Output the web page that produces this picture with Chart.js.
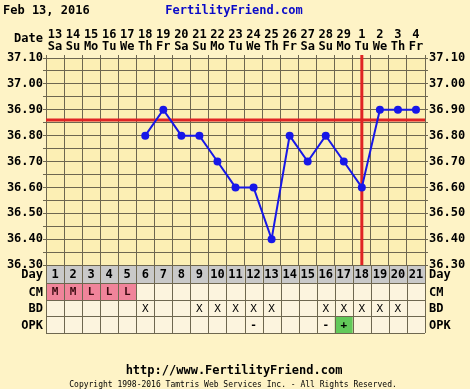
<!DOCTYPE html>
<html>
<head>
<meta charset="utf-8">
<script src="https://cdn.jsdelivr.net/npm/chart.js@4/dist/chart.umd.min.js"></script>
<style>
  html, body { margin: 0; padding: 0; background: #fef3c6; }
  canvas { display: block; }
</style>
</head>
<body>
<canvas id="c" width="470" height="389"></canvas>
<script>
// ---- data ----
const dates    = ['13','14','15','16','17','18','19','20','21','22','23','24','25','26','27','28','29','1','2','3','4'];
const weekdays = ['Sa','Su','Mo','Tu','We','Th','Fr','Sa','Su','Mo','Tu','We','Th','Fr','Sa','Su','Mo','Tu','We','Th','Fr'];
const cycleDays = ['1','2','3','4','5','6','7','8','9','10','11','12','13','14','15','16','17','18','19','20','21'];
const temps = [null,null,null,null,null,36.80,36.90,36.80,36.80,36.70,36.60,36.60,36.40,36.80,36.70,36.80,36.70,36.60,36.90,36.90,36.90];
const cm  = ['M','M','L','L','L','','','','','','','','','','','','','','','',''];
const bd  = ['','','','','','X','','','X','X','X','X','X','','','X','X','X','X','X',''];
const opk = ['','','','','','','','','','','','-','','','','-','+','','','',''];
const yTickValues = [36.30,36.35,36.40,36.45,36.50,36.55,36.60,36.65,36.70,36.75,36.80,36.85,36.90,36.95,37.00,37.05,37.10];
const coverline = 36.86;
const ovulationDay = 18;
const titleText = 'Feb 13, 2016';
const siteText = 'FertilityFriend.com';
const footerUrl = 'http://www.FertilityFriend.com';
const footerCopy = 'Copyright 1998-2016 Tamtris Web Services Inc. - All Rights Reserved.';
const rowNames = ['Day','CM','BD','OPK'];

// ---- styles ----
const MONO = '"DejaVu Sans Mono", "Liberation Mono", monospace';
const OUTER_BG = '#fef3c6';
const PLOT_BG = '#fcefb4';
const CELL_BG = '#fcf4de';
const GRID = '#6e6750';
const RED = '#e02424';
const BLUE = '#1717e8';

function yTickCb(v) {
  const r = Math.round(v * 100);
  return r % 10 === 0 ? (r / 100).toFixed(2) : '';
}

const decorPlugin = {
  id: 'decor',
  beforeDraw(chart) {
    const ctx = chart.ctx, a = chart.chartArea;
    ctx.save();
    ctx.fillStyle = OUTER_BG;
    ctx.fillRect(0, 0, chart.width, chart.height);
    ctx.fillStyle = PLOT_BG;
    ctx.fillRect(a.left, a.top, a.right - a.left, a.bottom - a.top);
    ctx.restore();
  },
  beforeDatasetsDraw(chart) {
    const ctx = chart.ctx, a = chart.chartArea;
    const xs = chart.scales.x, ys = chart.scales.y;
    ctx.save();
    ctx.strokeStyle = RED;
    ctx.lineWidth = 3;
    const cy = ys.getPixelForValue(coverline);
    ctx.beginPath(); ctx.moveTo(a.left, cy); ctx.lineTo(a.right, cy); ctx.stroke();
    const ox = xs.getPixelForValue(ovulationDay - 1);
    ctx.beginPath(); ctx.moveTo(ox, a.top - 3); ctx.lineTo(ox, a.bottom); ctx.stroke();
    ctx.restore();
  },
  afterDraw(chart) {
    const ctx = chart.ctx, a = chart.chartArea;
    const xs = chart.scales.x;
    const n = cycleDays.length;
    const colW = (a.right - a.left) / n;
    const rowTops = [a.bottom, a.bottom + 18, a.bottom + 35, a.bottom + 51, a.bottom + 68];
    ctx.save();
    // cell backgrounds
    for (let i = 0; i < n; i++) {
      const cx = xs.getPixelForValue(i);
      const l = cx - colW / 2;
      // day row
      ctx.fillStyle = '#c9c9c9';
      ctx.fillRect(l, rowTops[0], colW, rowTops[1] - rowTops[0]);
      ctx.fillStyle = cm[i] ? '#f0849a' : CELL_BG;
      ctx.fillRect(l, rowTops[1], colW, rowTops[2] - rowTops[1]);
      ctx.fillStyle = CELL_BG;
      ctx.fillRect(l, rowTops[2], colW, rowTops[3] - rowTops[2]);
      ctx.fillStyle = opk[i] === '+' ? '#62c95a' : CELL_BG;
      ctx.fillRect(l, rowTops[3], colW, rowTops[4] - rowTops[3]);
    }
    // grid
    ctx.strokeStyle = GRID;
    ctx.lineWidth = 1;
    ctx.beginPath();
    for (let r = 0; r < rowTops.length; r++) {
      const y = Math.round(rowTops[r]) + 0.5;
      ctx.moveTo(a.left, y); ctx.lineTo(a.right, y);
    }
    for (let i = 0; i <= n; i++) {
      const x = Math.round(a.left + i * colW) + 0.5;
      ctx.moveTo(x, rowTops[0]); ctx.lineTo(x, rowTops[4]);
    }
    ctx.stroke();
    // texts
    ctx.textBaseline = 'middle';
    ctx.textAlign = 'center';
    ctx.font = 'bold 12px ' + MONO;
    const rows = [cycleDays, cm, bd, opk];
    for (let r = 0; r < 4; r++) {
      const ym = (rowTops[r] + rowTops[r + 1]) / 2 + 1;
      for (let i = 0; i < n; i++) {
        const t = rows[r][i];
        if (!t) continue;
        ctx.fillStyle = r === 1 ? '#3a0a10' : '#000';
        ctx.font = (r === 2 ? '' : 'bold ') + (r === 0 ? '12px ' : '11px ') + MONO;
        ctx.fillText(t, xs.getPixelForValue(i), ym);
      }
      ctx.font = 'bold 12px ' + MONO;
      ctx.fillStyle = '#000';
      ctx.textAlign = 'right';
      ctx.fillText(rowNames[r], a.left - 3, ym);
      ctx.textAlign = 'left';
      ctx.fillText(rowNames[r], a.right + 4, ym);
      ctx.textAlign = 'center';
    }
    // header texts
    ctx.font = 'bold 12px ' + MONO;
    ctx.textAlign = 'left';
    ctx.fillStyle = '#000';
    ctx.fillText(titleText, 3, 11);
    ctx.fillStyle = '#0a0ac8';
    ctx.textAlign = 'center';
    ctx.fillText(siteText, 234, 11);
    ctx.fillStyle = '#000';
    ctx.textAlign = 'right';
    ctx.fillText('Date', a.left - 3, 39);
    // footer
    ctx.textAlign = 'center';
    ctx.font = 'bold 12px ' + MONO;
    ctx.fillText(footerUrl, 234, 371);
    ctx.font = '8px ' + MONO;
    ctx.fillText(footerCopy, 233, 385);
    ctx.restore();
  }
};

const fontTick = { family: MONO, size: 12, weight: 'bold', lineHeight: 1.0 };

new Chart(document.getElementById('c'), {
  type: 'line',
  data: {
    labels: dates,
    datasets: [{
      data: temps,
      borderColor: BLUE,
      backgroundColor: BLUE,
      borderWidth: 2,
      pointRadius: 4,
      pointBorderWidth: 0,
      pointBackgroundColor: BLUE,
      tension: 0
    }]
  },
  options: {
    responsive: false,
    animation: false,
    devicePixelRatio: 1,
    layout: { padding: { top: 0, left: 0, right: 0, bottom: 124 } },
    plugins: { legend: { display: false }, tooltip: { enabled: false }, title: { display: false } },
    scales: {
      x: {
        position: 'top',
        offset: true,
        grid: { offset: true, color: GRID, tickLength: 3, lineWidth: 1 },
        border: { color: GRID },
        ticks: {
          autoSkip: false, maxRotation: 0, minRotation: 0, padding: 2,
          color: '#000', font: fontTick,
          callback: (v, i) => [dates[i], weekdays[i]]
        },
        afterFit: s => { s.height = 58; }
      },
      y: {
        position: 'left',
        min: 36.3, max: 37.1,
        afterBuildTicks: s => { s.ticks = yTickValues.map(v => ({ value: v })); },
        grid: { color: GRID, tickLength: 3, lineWidth: 1 },
        border: { color: GRID },
        ticks: { autoSkip: false, padding: 0, color: '#000', font: fontTick, callback: yTickCb },
        afterFit: s => { s.width = 46; }
      },
      y2: {
        position: 'right',
        min: 36.3, max: 37.1,
        afterBuildTicks: s => { s.ticks = yTickValues.map(v => ({ value: v })); },
        grid: { drawOnChartArea: false, color: GRID, tickLength: 3, lineWidth: 1 },
        border: { color: GRID },
        ticks: { autoSkip: false, padding: 1, color: '#000', font: fontTick, callback: yTickCb },
        afterFit: s => { s.width = 45; }
      }
    }
  },
  plugins: [decorPlugin]
});
</script>
</body>
</html>
